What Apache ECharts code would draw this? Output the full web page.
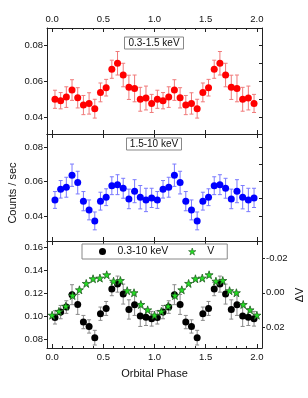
<!DOCTYPE html>
<html><head><meta charset="utf-8">
<script src="https://cdn.jsdelivr.net/npm/echarts@6/dist/echarts.min.js"></script>
<style>html,body{margin:0;padding:0;background:#fff}#c{width:308px;height:398px}</style>
</head><body><div id="c"></div>
<script>
// ---------- data ----------
const xrayPhase = [0.0278,0.0833,0.1389,0.1944,0.2500,0.3056,0.3611,0.4167,0.4722,0.5278,0.5833,0.6389,0.6944,0.7500,0.8056,0.8611,0.9167,0.9722,
                   1.0278,1.0833,1.1389,1.1944,1.2500,1.3056,1.3611,1.4167,1.4722,1.5278,1.5833,1.6389,1.6944,1.7500,1.8056,1.8611,1.9167,1.9722];
const soft    = [0.0500,0.0492,0.0512,0.0551,0.0508,0.0468,0.0477,0.0448,0.0538,0.0564,0.0666,0.0699,0.0634,0.0566,0.0560,0.0500,0.0507,0.0477,
                 0.0500,0.0492,0.0512,0.0551,0.0508,0.0468,0.0477,0.0448,0.0538,0.0564,0.0666,0.0699,0.0634,0.0566,0.0560,0.0500,0.0507,0.0477];
const softErr = [0.0050,0.0045,0.0057,0.0057,0.0056,0.0053,0.0059,0.0052,0.0052,0.0046,0.0050,0.0065,0.0065,0.0067,0.0074,0.0066,0.0066,0.0050,
                 0.0050,0.0045,0.0057,0.0057,0.0056,0.0053,0.0059,0.0052,0.0052,0.0046,0.0050,0.0065,0.0065,0.0067,0.0074,0.0066,0.0066,0.0050];
const hard    = [0.0493,0.0555,0.0567,0.0637,0.0594,0.0486,0.0435,0.0371,0.0486,0.0509,0.0576,0.0582,0.0561,0.0499,0.0544,0.0509,0.0493,0.0505,
                 0.0493,0.0555,0.0567,0.0637,0.0594,0.0486,0.0435,0.0371,0.0486,0.0509,0.0576,0.0582,0.0561,0.0499,0.0544,0.0509,0.0493,0.0505];
const hardErr = [0.0049,0.0051,0.0058,0.0065,0.0066,0.0056,0.0058,0.0052,0.0052,0.0049,0.0052,0.0058,0.0058,0.0057,0.0067,0.0068,0.0068,0.0056,
                 0.0049,0.0051,0.0058,0.0065,0.0066,0.0056,0.0058,0.0052,0.0052,0.0049,0.0052,0.0058,0.0058,0.0057,0.0067,0.0068,0.0068,0.0056];
const total    = [0.0989,0.1035,0.1079,0.1187,0.1102,0.0948,0.0910,0.0812,0.1021,0.1067,0.1236,0.1279,0.1192,0.1058,0.1099,0.1000,0.0991,0.0977,
                  0.0989,0.1035,0.1079,0.1187,0.1102,0.0948,0.0910,0.0812,0.1021,0.1067,0.1236,0.1279,0.1192,0.1058,0.1099,0.1000,0.0991,0.0977];
const totalErr = [0.0058,0.0058,0.0055,0.0087,0.0087,0.0058,0.0058,0.0064,0.0058,0.0061,0.0058,0.0070,0.0087,0.0084,0.0093,0.0090,0.0073,0.0064,
                  0.0058,0.0058,0.0055,0.0087,0.0087,0.0058,0.0058,0.0064,0.0058,0.0061,0.0058,0.0070,0.0087,0.0084,0.0093,0.0090,0.0073,0.0064];
const vPhase = [0.0000,0.0667,0.1333,0.2000,0.2667,0.3333,0.4000,0.4667,0.5333,0.6000,0.6667,0.7333,0.8000,0.8667,0.9333,
                1.0000,1.0667,1.1333,1.2000,1.2667,1.3333,1.4000,1.4667,1.5333,1.6000,1.6667,1.7333,1.8000,1.8667,1.9333,2.0000];
const deltaV = [0.0130,0.0108,0.0078,0.0016,-0.0017,-0.0054,-0.0081,-0.0085,-0.0104,-0.0067,-0.0071,-0.0012,0.0000,0.0068,0.0099,
                0.0130,0.0108,0.0078,0.0016,-0.0017,-0.0054,-0.0081,-0.0085,-0.0104,-0.0067,-0.0071,-0.0012,0.0000,0.0068,0.0099,0.0130];
const phaseMajor = [0, 0.5, 1.0, 1.5, 2.0];
const phaseMinor = [0.1,0.2,0.3,0.4,0.6,0.7,0.8,0.9,1.1,1.2,1.3,1.4,1.6,1.7,1.8,1.9];
const ticks1 = [0.04, 0.06, 0.08];
const ticks2 = [0.04, 0.06, 0.08];
const ticks3 = [0.08, 0.10, 0.12, 0.14, 0.16];
const ticksRight = [0.04, 0.05, 0.06, 0.07, 0.08];
const ticksDV = [-0.02, 0.00, 0.02];

// ---------- chart ----------
const FONT = 'Liberation Sans, Arial, sans-serif';
const AX = '#222';
const chart = echarts.init(document.getElementById('c'), null, {renderer: 'canvas'});

const grids = [
  {left: 47, right: 46, top: 28, height: 106},
  {left: 47, right: 46, top: 134, height: 107},
  {left: 47, right: 46, top: 241, height: 107}
];

function xAx(grid, pos, values, len, showLine, labels) {
  return {
    type: 'value', gridIndex: grid, position: pos, min: -0.05, max: 2.05,
    splitLine: {show: false},
    axisLine: {show: showLine, onZero: false, lineStyle: {color: AX, width: 1}},
    axisTick: {show: true, inside: true, length: len, customValues: values, lineStyle: {color: AX}},
    axisLabel: labels ? {show: true, customValues: phaseMajor, margin: 4, fontSize: 9.5, color: '#111', fontFamily: FONT,
                          formatter: v => v.toFixed(1)} : {show: false}
  };
}
const xAxes = [
  xAx(0, 'top', phaseMajor, 4, true, true),      //0
  xAx(0, 'top', phaseMinor, 2, false, false),    //1
  xAx(0, 'bottom', phaseMajor, 4, true, false),  //2
  xAx(1, 'top', phaseMajor, 4, true, false),     //3
  xAx(1, 'bottom', phaseMajor, 4, true, false),  //4
  xAx(2, 'top', phaseMajor, 4, true, false),     //5
  xAx(2, 'bottom', phaseMajor, 4, true, true),   //6
  xAx(2, 'bottom', phaseMinor, 2, false, false)  //7
];
xAxes[6].name = 'Orbital Phase';
xAxes[6].nameLocation = 'middle';
xAxes[6].nameGap = 20;
xAxes[6].nameTextStyle = {fontSize: 11, fontFamily: FONT, color: '#111'};

function yAx(grid, pos, min, max, values, inside, labels, fmt, inverse) {
  return {
    type: 'value', gridIndex: grid, position: pos, min: min, max: max, inverse: !!inverse,
    splitLine: {show: false},
    axisLine: {show: true, onZero: false, lineStyle: {color: AX, width: 1}},
    axisTick: {show: true, inside: inside, length: 3, customValues: values, lineStyle: {color: AX}},
    axisLabel: labels ? {show: true, customValues: values, margin: 4, fontSize: 9.5, color: '#111', fontFamily: FONT,
                          formatter: fmt} : {show: false}
  };
}
const f2 = v => v.toFixed(2);
const yAxes = [
  yAx(0, 'left', 0.0308, 0.0894, ticks1, false, true, f2),             //0
  yAx(0, 'right', 0.0308, 0.0894, ticksRight, true, false),             //1
  yAx(1, 'left', 0.0254, 0.0877, ticks2, false, true, f2),             //2
  yAx(1, 'right', 0.0254, 0.0877, ticksRight, true, false),             //3
  yAx(2, 'left', 0.0722, 0.1655, ticks3, false, true, f2),             //4
  yAx(2, 'right', -0.0300, 0.0320, ticksDV, false, true, f2, true)      //5
];

function errSeries(xi, yi, xs, ys, es, color) {
  return {
    type: 'custom', xAxisIndex: xi, yAxisIndex: yi, z: 2, silent: true,
    encode: {x: 0, y: [1, 2]},
    data: xs.map((x, i) => [x, ys[i] - es[i], ys[i] + es[i]]),
    renderItem: function (params, api) {
      const x = api.value(0);
      const a = api.coord([x, api.value(1)]);
      const b = api.coord([x, api.value(2)]);
      const w = 2;
      const st = {stroke: color, lineWidth: 1};
      return {type: 'group', children: [
        {type: 'line', shape: {x1: a[0], y1: a[1], x2: b[0], y2: b[1]}, style: st},
        {type: 'line', shape: {x1: a[0] - w, y1: a[1], x2: a[0] + w, y2: a[1]}, style: st},
        {type: 'line', shape: {x1: b[0] - w, y1: b[1], x2: b[0] + w, y2: b[1]}, style: st}
      ]};
    }
  };
}
function pts(name, xi, yi, xs, ys, color, symbol, size, border) {
  return {
    name: name, type: 'scatter', xAxisIndex: xi, yAxisIndex: yi, z: 3,
    symbol: symbol, symbolSize: size,
    itemStyle: {color: color, borderColor: border || color, borderWidth: border ? 0.8 : 0, opacity: 1},
    data: xs.map((x, i) => [x, ys[i]])
  };
}
const STAR = 'path://M50,2 L61,36 L97,36 L68,57 L79,92 L50,71 L21,92 L32,57 L3,36 L39,36 Z';

const series = [
  errSeries(0, 0, xrayPhase, soft, softErr, '#f07a7a'),
  pts('0.3-1.5 keV', 0, 0, xrayPhase, soft, '#ff0000', 'circle', 7),
  errSeries(3, 2, xrayPhase, hard, hardErr, '#7a7aff'),
  pts('1.5-10 keV', 3, 2, xrayPhase, hard, '#0000ff', 'circle', 7),
  errSeries(6, 4, xrayPhase, total, totalErr, '#8a8a8a'),
  pts('0.3-10 keV', 6, 4, xrayPhase, total, '#000000', 'circle', 7),
  pts('V', 6, 5, vPhase, deltaV, '#22e022', STAR, 8, '#1f5a1f')
];
series[6].z = 4;

const boxTitle = (text, top) => ({
  text: text, left: 'center', top: top, padding: [1, 4, 1, 4],
  borderColor: '#888', borderWidth: 1, backgroundColor: '#fff',
  textStyle: {fontSize: 10, fontWeight: 'normal', fontFamily: FONT, color: '#111', lineHeight: 11}
});

chart.setOption({
  animation: false,
  backgroundColor: '#fff',
  grid: grids,
  xAxis: xAxes,
  yAxis: yAxes,
  title: [boxTitle('0.3-1.5 keV', 36.5), boxTitle('1.5-10 keV', 137.5)],
  legend: {
    data: [
      {name: '0.3-10 keV', icon: 'circle', itemStyle: {color: '#000', borderWidth: 0}},
      {name: 'V', icon: STAR, itemStyle: {color: '#22e022', borderColor: '#1f5a1f', borderWidth: 0.6}}
    ],
    left: 82, top: 244,
    padding: [2, 13, 2, 17], itemGap: 20, itemWidth: 8, itemHeight: 7,
    borderColor: '#888', borderWidth: 1, backgroundColor: '#fff',
    textStyle: {fontSize: 10.5, fontFamily: FONT, color: '#111', padding: [0, 0, 0, 6]},
    selectedMode: false
  },
  graphic: [
    {type: 'text', x: 13, y: 193, rotation: Math.PI / 2,
     style: {text: 'Counts / sec', fontSize: 11, fontFamily: FONT, fill: '#111', align: 'center', verticalAlign: 'middle'}},
    {type: 'text', x: 300, y: 295, rotation: Math.PI / 2,
     style: {text: 'ΔV', fontSize: 11, fontFamily: FONT, fill: '#111', align: 'center', verticalAlign: 'middle'}}
  ],
  series: series
});
</script>
</body></html>
